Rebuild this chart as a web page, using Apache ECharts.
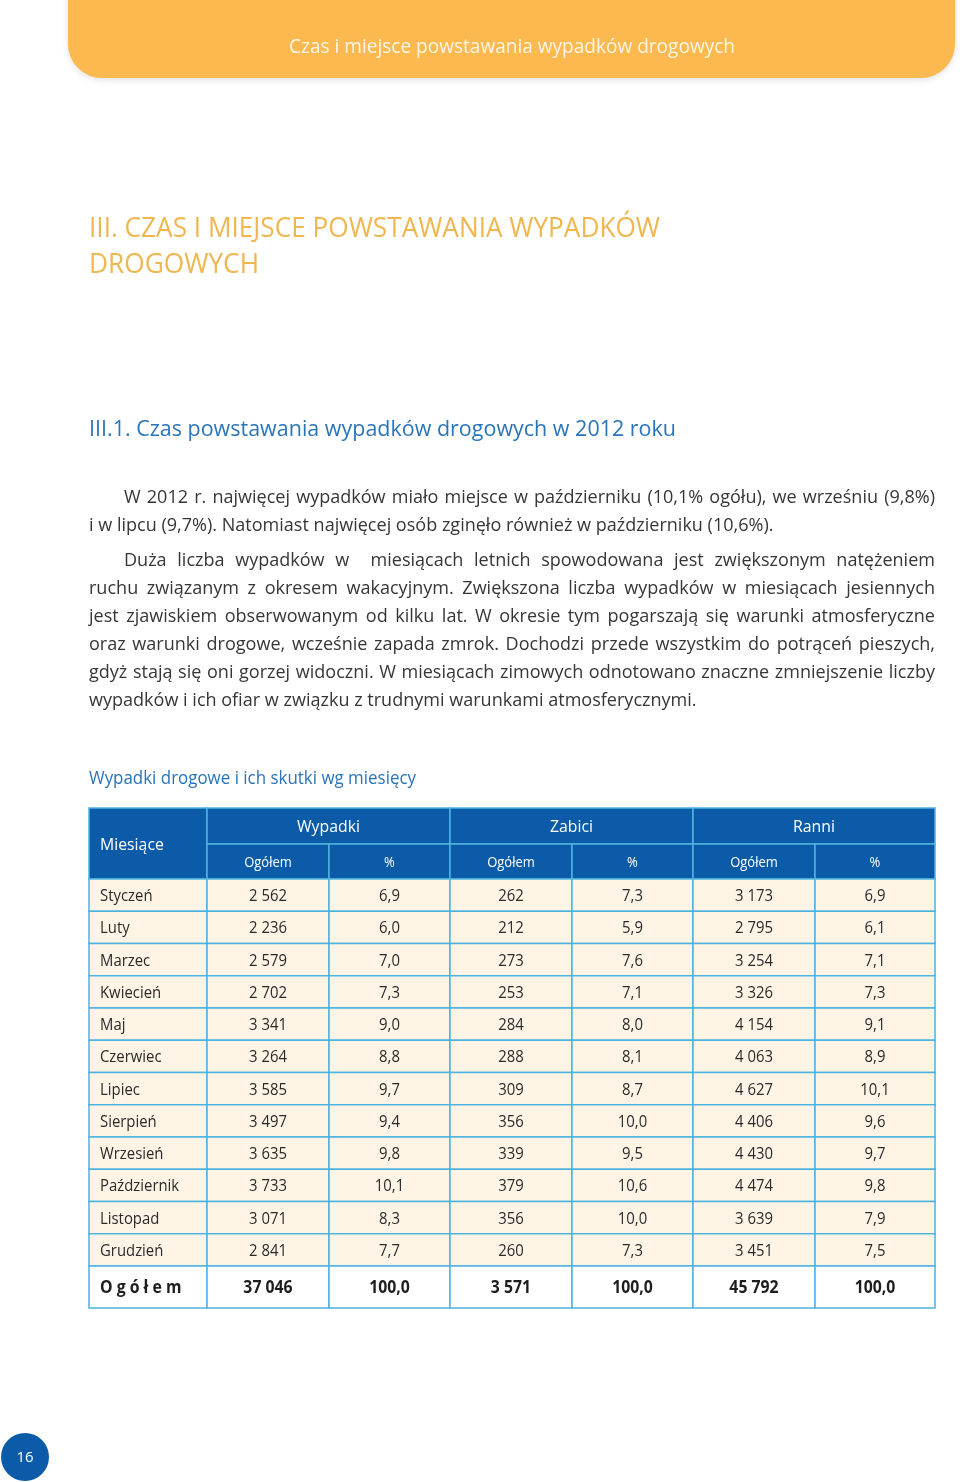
<!DOCTYPE html>
<html><head><meta charset="utf-8">
<script src="https://cdn.jsdelivr.net/npm/echarts@6/dist/echarts.min.js"></script>
<style>html,body{margin:0;padding:0;background:#fff}#c{width:960px;height:1482px}</style>
</head><body><div id="c"></div>
<script>
// ---- data ----
const months = ['Styczeń','Luty','Marzec','Kwiecień','Maj','Czerwiec','Lipiec','Sierpień','Wrzesień','Październik','Listopad','Grudzień'];
const wypadki = [2562,2236,2579,2702,3341,3264,3585,3497,3635,3733,3071,2841];
const wypadkiPct = [6.9,6.0,7.0,7.3,9.0,8.8,9.7,9.4,9.8,10.1,8.3,7.7];
const zabici = [262,212,273,253,284,288,309,356,339,379,356,260];
const zabiciPct = [7.3,5.9,7.6,7.1,8.0,8.1,8.7,10.0,9.5,10.6,10.0,7.3];
const ranni = [3173,2795,3254,3326,4154,4063,4627,4406,4430,4474,3639,3451];
const ranniPct = [6.9,6.1,7.1,7.3,9.1,8.9,10.1,9.6,9.7,9.8,7.9,7.5];
const totalLabel = 'O g ó ł e m';
const totals = [37046,100.0,3571,100.0,45792,100.0];
const groupHeaders = ['Wypadki','Zabici','Ranni'];
const subHeaders = ['Ogółem','%'];
const firstHeader = 'Miesiące';

// ---- styles / layout ----
const FF = '"Open Sans","Noto Sans",sans-serif';
const ORANGE = '#fbb94f', TITLE = '#f0b64f', BLUE = '#0c5ba8', LBLUE = '#2a74ba';
const CELL = '#fdf4e6', BORDER = '#4fb3df', TXT = '#2a2a2a', PTXT = '#363636';
const colEdges = [0,118,240,361,483,604,726,846];
const headH = [0,36,71];
const bodyTop = 71, bodyBottom = 458, tableBottom = 500;
const DY = 2; // baseline nudge for text

const ctx = document.createElement('canvas').getContext('2d');
function mw(t,size,weight){ctx.font=(weight||'normal')+' '+size+'px '+FF;return ctx.measureText(t).width;}
const fmtInt = n => String(n).replace(/\B(?=(\d{3})+(?!\d))/g,' ');
const fmtPct = v => v.toFixed(1).replace('.',',');

const graphics = [];
function fitText(text,x,y,width,size,color,weight,align){
  const s = width / mw(text,size,weight);
  graphics.push({type:'text',x:x,y:y+DY,scaleX:s,silent:true,style:{text:text,x:0,y:0,font:(weight||'normal')+' '+size+'px '+FF,fill:color,textAlign:align||'left',textVerticalAlign:'middle',align:align||'left',verticalAlign:'middle'}});
}
function word(text,x,y,size,color,s){
  graphics.push({type:'text',x:x,y:y+DY,scaleX:s,silent:true,style:{text:text,x:0,y:0,font:'normal '+size+'px '+FF,fill:color,textAlign:'left',textVerticalAlign:'middle',align:'left',verticalAlign:'middle'}});
}

// header bar
graphics.push({type:'rect',shape:{x:68,y:-40,width:887,height:118,r:34},style:{fill:ORANGE,shadowBlur:6,shadowColor:'rgba(0,0,0,0.12)',shadowOffsetY:2}});
fitText('Czas i miejsce powstawania wypadków drogowych',512,45,446,20,'#fff6e6','normal','center');
// titles
fitText('III. CZAS I MIEJSCE POWSTAWANIA WYPADKÓW',89,227,571,28,TITLE);
fitText('DROGOWYCH',89,263,170,28,TITLE);
fitText('III.1. Czas powstawania wypadków drogowych w 2012 roku',89,428,587,22,LBLUE);
fitText('Wypadki drogowe i ich skutki wg miesięcy',89,777,327,18,LBLUE);

// paragraphs
const PS = 19;
const sc = (684/mw('i w lipcu (9,7%). Natomiast najwięcej osób zginęło również w październiku (10,6%).',PS) + 608/mw('wypadków i ich ofiar w związku z trudnymi warunkami atmosferycznymi.',PS))/2;
const lines = [
  ['W 2012 r. najwięcej wypadków miało miejsce w październiku (10,1% ogółu), we wrześniu (9,8%)',124,496,true],
  ['i w lipcu (9,7%). Natomiast najwięcej osób zginęło również w październiku (10,6%).',89,524,false],
  ['Duża liczba wypadków w  miesiącach letnich spowodowana jest zwiększonym natężeniem',124,559,true],
  ['ruchu związanym z okresem wakacyjnym. Zwiększona liczba wypadków w miesiącach jesiennych',89,587,true],
  ['jest zjawiskiem obserwowanym od kilku lat. W okresie tym pogarszają się warunki atmosferyczne',89,615,true],
  ['oraz warunki drogowe, wcześnie zapada zmrok. Dochodzi przede wszystkim do potrąceń pieszych,',89,643,true],
  ['gdyż stają się oni gorzej widoczni. W miesiącach zimowych odnotowano znaczne zmniejszenie liczby',89,671,true],
  ['wypadków i ich ofiar w związku z trudnymi warunkami atmosferycznymi.',89,699,false]
];
lines.forEach(([t,x,y,just])=>{
  if(!just){word(t,x,y,PS,PTXT,sc);return;}
  const ws = t.split(' ');
  const wd = ws.map(w=>mw(w,PS)*sc);
  const gap = (935-x-wd.reduce((a,b)=>a+b,0))/(ws.length-1);
  let cx = x;
  ws.forEach((w,i)=>{ if(w) word(w,cx,y,PS,PTXT,sc); cx += wd[i]+gap; });
});

// page number
graphics.push({type:'circle',shape:{cx:25,cy:1457,r:24},style:{fill:BLUE}});
graphics.push({type:'text',x:25,y:1458,style:{text:'16',x:0,y:0,font:'normal 15px '+FF,fill:'#fff',textAlign:'center',textVerticalAlign:'middle',align:'center',verticalAlign:'middle'}});

// ---- table cells built from data ----
const cells = [];
function cell(x0,x1,y0,y1,text,opt){cells.push(Object.assign({x0,x1,y0,y1,text},opt));}
const hdr = {fill:BLUE,color:'#fff'};
cell(0,colEdges[1],headH[0],headH[2],firstHeader,Object.assign({size:17,align:'left'},hdr));
groupHeaders.forEach((g,i)=>{
  cell(colEdges[1+2*i],colEdges[3+2*i],headH[0],headH[1],g,Object.assign({size:17,align:'center'},hdr));
  subHeaders.forEach((s,j)=>cell(colEdges[1+2*i+j],colEdges[2+2*i+j],headH[1],headH[2],s,Object.assign({size:14,align:'center'},hdr)));
});
const rowH = (bodyBottom-bodyTop)/months.length;
const bodyCols = [wypadki.map(fmtInt),wypadkiPct.map(fmtPct),zabici.map(fmtInt),zabiciPct.map(fmtPct),ranni.map(fmtInt),ranniPct.map(fmtPct)];
months.forEach((m,r)=>{
  const y0 = bodyTop + r*rowH, y1 = y0 + rowH;
  cell(0,colEdges[1],y0,y1,m,{fill:CELL,color:TXT,size:16,align:'left'});
  bodyCols.forEach((col,c)=>cell(colEdges[c+1],colEdges[c+2],y0,y1,col[r],{fill:CELL,color:TXT,size:16,align:'center'}));
});
cell(0,colEdges[1],bodyBottom,tableBottom,totalLabel,{fill:'#fff',color:'#1e1e1e',size:17,weight:'bold',align:'left'});
totals.forEach((v,c)=>cell(colEdges[c+1],colEdges[c+2],bodyBottom,tableBottom,c%2?fmtPct(v):fmtInt(v),{fill:'#fff',color:'#1e1e1e',size:17,weight:'bold',align:'center'}));

const chart = echarts.init(document.getElementById('c'),null,{renderer:'canvas'});
chart.setOption({
  animation:false,
  grid:{left:89,top:808,width:846,height:500},
  xAxis:{type:'value',min:0,max:846,show:false},
  yAxis:{type:'value',min:0,max:500,inverse:true,show:false},
  graphic:graphics,
  series:[{
    type:'custom',
    data:cells.map(c=>[c.x0,c.y0]),
    renderItem:function(params,api){
      const c = cells[params.dataIndex];
      const p0 = api.coord([c.x0,c.y0]), p1 = api.coord([c.x1,c.y1]);
      const tx = c.align==='left' ? p0[0]+11 : (p0[0]+p1[0])/2;
      const ty = (p0[1]+p1[1])/2 + 1.5;
      return {type:'group',children:[
        {type:'rect',shape:{x:p0[0],y:p0[1],width:p1[0]-p0[0],height:p1[1]-p0[1]},style:{fill:c.fill,stroke:BORDER,lineWidth:1.5}},
        {type:'text',x:tx,y:ty,scaleX:0.93,style:{text:c.text,x:0,y:0,fill:c.color,font:(c.weight||'normal')+' '+c.size+'px '+FF,align:c.align,verticalAlign:'middle',textAlign:c.align,textVerticalAlign:'middle'}}
      ]};
    }
  }]
});
</script></body></html>
